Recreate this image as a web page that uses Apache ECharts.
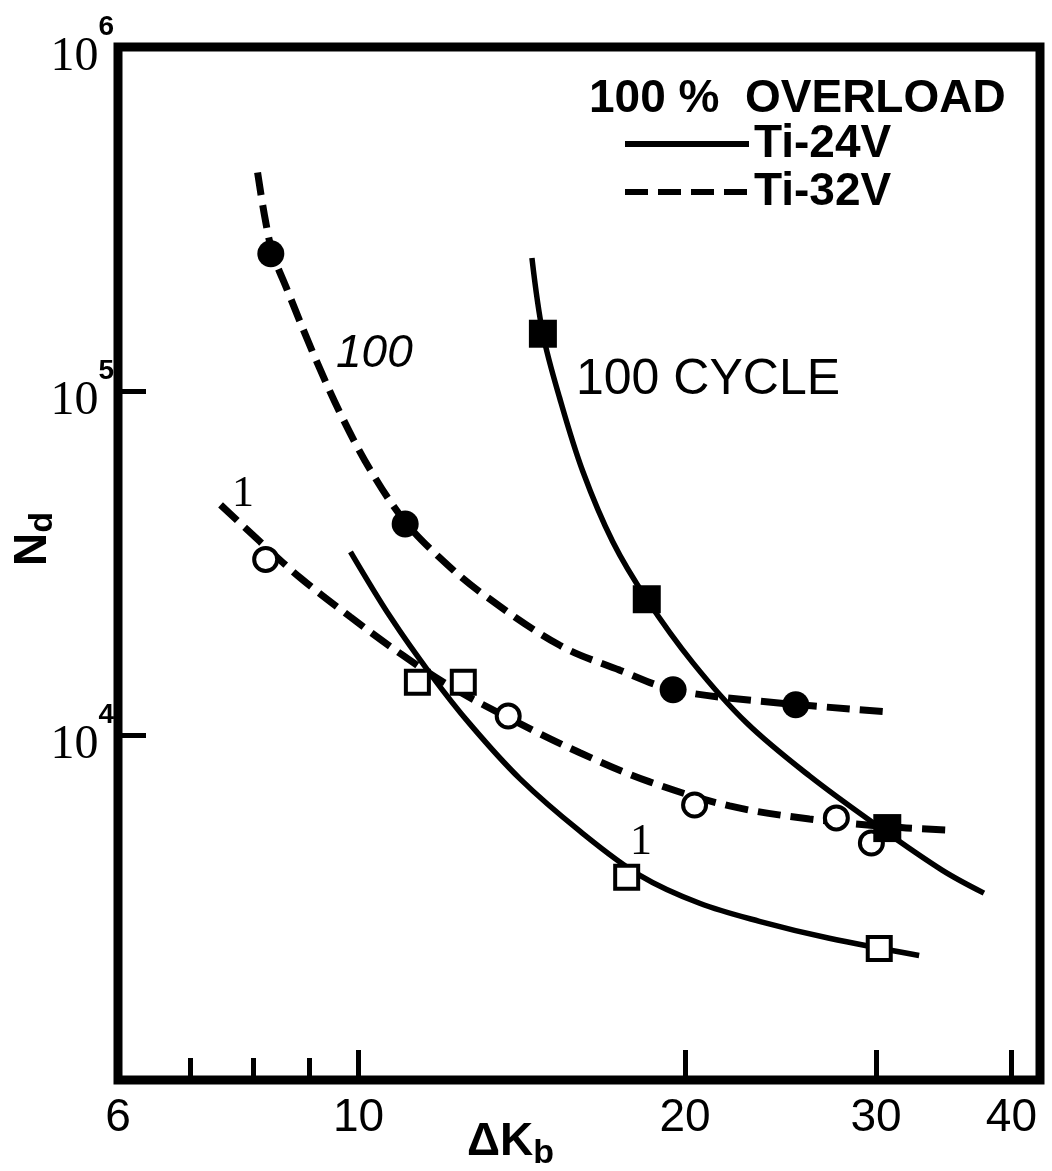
<!DOCTYPE html>
<html><head><meta charset="utf-8">
<script src="https://cdn.jsdelivr.net/npm/echarts@6/dist/echarts.min.js"></script>
<style>html,body{margin:0;padding:0;background:#fff}#c{width:1052px;height:1171px}</style>
</head><body><div id="c"></div>
<script>
// ---- tick / label values ----
const xTickMajor = [10, 20, 30, 40];
const xTickMinor = [7, 8, 9];
const xTickLabels = [6, 10, 20, 30, 40];

// ---- curves (ΔK_b, N_d) ----
const ti32v_100_curve = [[8.07,4.32e5],[8.19,3.24e5],[8.33,2.53e5],[8.60,1.96e5],[9.09,1.28e5],[9.63,8.57e4],[10.25,5.92e4],[11.04,4.18e4],[11.89,3.28e4],[12.95,2.61e4],[15.33,1.83e4],[17.41,1.55e4],[19.5,1.36e4],[23.42,1.26e4],[31.06,1.17e4]];
const ti32v_1_curve = [[7.46,4.68e4],[8.12,3.65e4],[8.84,2.87e4],[9.83,2.21e4],[10.93,1.73e4],[12.15,1.39e4],[13.80,1.12e4],[16.00,8.92e3],[18.56,7.34e3],[21.99,6.25e3],[26.05,5.73e3],[31.06,5.43e3],[35.04,5.32e3]];
const ti24v_100_curve = [[14.45,2.44e5],[14.79,1.47e5],[15.33,9.54e4],[16.10,5.85e4],[17.16,3.65e4],[18.44,2.49e4],[20.33,1.63e4],[22.79,1.09e4],[26.05,7.64e3],[30.02,5.50e3],[34.52,4.07e3],[37.73,3.49e3]];
const ti24v_1_curve = [[9.83,3.42e4],[10.70,2.21e4],[11.65,1.51e4],[12.67,1.08e4],[14.09,7.49e3],[16.00,5.28e3],[18.17,3.93e3],[20.63,3.26e3],[23.42,2.89e3],[27.17,2.58e3],[32.88,2.30e3]];

// ---- measured points ----
const ti32v_100_pts = [[8.30,2.51e5],[11.04,4.12e4],[19.5,1.36e4],[25.3,1.23e4]];
const ti32v_1_pts = [[8.21,3.25e4],[13.74,1.14e4],[20.41,6.29e3],[27.58,5.77e3],[29.71,4.88e3]];
const ti24v_100_pts = [[14.79,1.47e5],[18.44,2.49e4],[30.73,5.39e3]];
const ti24v_1_pts = [[11.33,1.43e4],[12.49,1.43e4],[17.67,3.88e3],[30.21,2.41e3]];

const chart = echarts.init(document.getElementById('c'), null, {renderer: 'canvas'});
const K = '#000';
const dash = {color: K, width: 7, type: [23, 10]};
const solid = {color: K, width: 5.5};

chart.setOption({
  backgroundColor: '#fff',
  animation: false,
  color: [K],
  grid: {left: 118, right: 12, top: 47, bottom: 91, show: true, borderColor: K, borderWidth: 9, backgroundColor: 'transparent'},
  title: {text: '100 %  OVERLOAD', left: 584, top: 71,
    textStyle: {fontFamily: 'Liberation Sans', fontSize: 46, fontWeight: 'bold', color: K}},
  legend: {data: ['Ti-24V', 'Ti-32V'], orient: 'vertical', left: 622, top: 121, itemWidth: 124, itemHeight: 14, itemGap: 2,
    padding: 0, itemStyle: {color: 'rgba(0,0,0,0)', borderWidth: 0, opacity: 0},
    lineStyle: {width: 6, color: K},
    textStyle: {fontFamily: 'Liberation Sans', fontSize: 46, fontWeight: 'bold', color: K}},
  xAxis: [{
    type: 'log', logBase: 10, min: 6, max: 42.5,
    axisLine: {show: false}, splitLine: {show: false}, minorTick: {show: false},
    axisTick: {inside: true, length: 30, lineStyle: {color: K, width: 5}, customValues: xTickMajor},
    axisLabel: {customValues: xTickLabels, margin: 15, color: K, fontFamily: 'Liberation Sans', fontSize: 46,
      showMinLabel: true, showMaxLabel: true, formatter: v => String(Math.round(v))}
  }, {
    type: 'log', logBase: 10, min: 6, max: 42.5, position: 'bottom',
    axisLine: {show: false}, splitLine: {show: false}, axisLabel: {show: false},
    axisTick: {inside: true, length: 22, lineStyle: {color: K, width: 5}, customValues: xTickMinor}
  }],
  yAxis: {
    type: 'log', logBase: 10, min: 1000, max: 1e6,
    axisLine: {show: false}, splitLine: {show: false},
    axisTick: {inside: true, length: 28, lineStyle: {color: K, width: 5}},
    axisLabel: {margin: 4, color: K, showMinLabel: false,
      formatter: v => { const e = Math.round(Math.log10(v)); return e <= 3 ? '' : '{b|10}{s|' + e + '}'; },
      rich: {
        b: {fontFamily: 'Liberation Serif', fontSize: 48, lineHeight: 68, verticalAlign: 'bottom', color: K},
        s: {fontFamily: 'Liberation Sans', fontSize: 28, fontWeight: 'bold', lineHeight: 28, padding: [0, 0, 46, 0], verticalAlign: 'top', color: K}
      }}
  },
  series: [
    {name: 'Ti-32V', type: 'line', data: ti32v_100_curve, symbol: 'none', smooth: 0.35, itemStyle: {color: K}, lineStyle: dash, z: 2},
    {name: 'Ti-32V', type: 'line', data: ti32v_1_curve, symbol: 'none', smooth: 0.35, itemStyle: {color: K}, lineStyle: dash, z: 2},
    {name: 'Ti-24V', type: 'line', data: ti24v_100_curve, symbol: 'none', smooth: 0.35, itemStyle: {color: K}, lineStyle: solid, z: 2},
    {name: 'Ti-24V', type: 'line', data: ti24v_1_curve, symbol: 'none', smooth: 0.35, itemStyle: {color: K}, lineStyle: solid, z: 2},
    {name: 'Ti-32V 100 cycle', type: 'scatter', data: ti32v_100_pts, symbol: 'circle', symbolSize: 27, itemStyle: {color: K, opacity: 1}, z: 3},
    {name: 'Ti-32V 1 cycle', type: 'scatter', data: ti32v_1_pts, symbol: 'circle', symbolSize: 23, itemStyle: {color: '#fff', borderColor: K, borderWidth: 4, opacity: 1}, z: 3},
    {name: 'Ti-24V 100 cycle', type: 'scatter', data: ti24v_100_pts, symbol: 'rect', symbolSize: 28, itemStyle: {color: K, opacity: 1}, z: 3},
    {name: 'Ti-24V 1 cycle', type: 'scatter', data: ti24v_1_pts, symbol: 'rect', symbolSize: 23, itemStyle: {color: '#fff', borderColor: K, borderWidth: 4, opacity: 1}, z: 3}
  ],
  graphic: [
    {type: 'text', left: 576, top: 355, style: {text: '100 CYCLE', font: '50px "Liberation Sans"', fill: K}},
    {type: 'text', left: 336, top: 331, style: {text: '100', font: 'italic 46px "Liberation Sans"', fill: K}},
    {type: 'text', left: 232, top: 472, style: {text: '1', font: '44px "Liberation Serif"', fill: K}},
    {type: 'text', left: 630, top: 820, style: {text: '1', font: '44px "Liberation Serif"', fill: K}},
    {type: 'text', left: 467, top: 1119, style: {text: '{m|ΔK}{sub|b}', rich: {
      m: {fontFamily: 'Liberation Sans', fontSize: 46, fontWeight: 'bold', fill: K, lineHeight: 50, verticalAlign: 'top'},
      sub: {fontFamily: 'Liberation Sans', fontSize: 34, fontWeight: 'bold', fill: K, lineHeight: 34, padding: [18, 0, 0, 0], verticalAlign: 'top'}}}},
    {type: 'text', x: 10, y: 566, rotation: Math.PI / 2, style: {text: '{m|N}{sub|d}', rich: {
      m: {fontFamily: 'Liberation Sans', fontSize: 46, fontWeight: 'bold', fill: K, lineHeight: 50, verticalAlign: 'top'},
      sub: {fontFamily: 'Liberation Sans', fontSize: 34, fontWeight: 'bold', fill: K, lineHeight: 34, padding: [16, 0, 0, 0], verticalAlign: 'top'}}}}
  ]
});
</script></body></html>
